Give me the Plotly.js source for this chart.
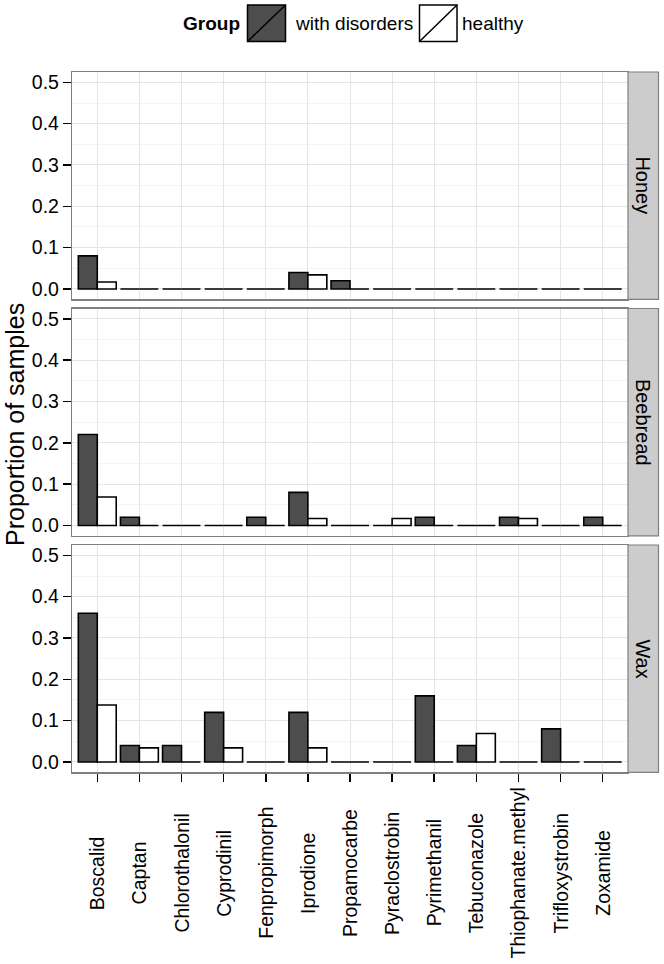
<!DOCTYPE html>
<html>
<head>
<meta charset="utf-8">
<script src="https://cdn.plot.ly/plotly-3.0.1.min.js"></script>
<style>html,body{margin:0;padding:0;background:#fff;}#chart{width:664px;height:964px;}</style>
</head>
<body>
<div id="chart"></div>
<script>
// ---- data ----
var categories = ["Boscalid","Captan","Chlorothalonil","Cyprodinil","Fenpropimorph","Iprodione","Propamocarbe","Pyraclostrobin","Pyrimethanil","Tebuconazole","Thiophanate.methyl","Trifloxystrobin","Zoxamide"];
var panels = ["Honey","Beebread","Wax"];
var groups = ["with disorders","healthy"];
var honeyDisorders    = [0.08,0,0,0,0,0.04,0.02,0,0,0,0,0,0];
var honeyHealthy      = [0.017,0,0,0,0,0.034,0,0,0,0,0,0,0];
var beebreadDisorders = [0.22,0.02,0,0,0.02,0.08,0,0,0.02,0,0.02,0,0.02];
var beebreadHealthy   = [0.069,0,0,0,0,0.017,0,0.017,0,0,0.017,0,0];
var waxDisorders      = [0.36,0.04,0.04,0.12,0,0.12,0,0,0.16,0.04,0,0.08,0];
var waxHealthy        = [0.138,0.034,0,0.034,0,0.034,0,0,0,0.069,0,0,0];
var yTicks = [0,0.1,0.2,0.3,0.4,0.5];
var yTitle = "Proportion of samples";
var legendTitle = "Group";

// ---- styling ----
var W = 664, H = 964;
var FONT = '"Liberation Sans", Arial, Helvetica, sans-serif';
var TXT = 19.5;
var fills = ["#4d4d4d", "#ffffff"];
var px = function(x){ return x / W; };
var py = function(y){ return 1 - y / H; };
var panelL = 72, panelR = 628;
var panelTB = [[72, 299.3], [308.5, 535.8], [545, 772.3]];
var stripR = 658.5;

var series = [[honeyDisorders, honeyHealthy],[beebreadDisorders, beebreadHealthy],[waxDisorders, waxHealthy]];
var traces = [];
series.forEach(function(pair, p){
  pair.forEach(function(vals, g){
    traces.push({
      type: 'bar',
      x: categories,
      y: vals,
      name: groups[g],
      xaxis: p === 0 ? 'x' : 'x' + (p + 1),
      yaxis: p === 0 ? 'y' : 'y' + (p + 1),
      marker: {color: fills[g], line: {color: '#000000', width: 1.6}},
      showlegend: false,
      hoverinfo: 'x+y+name'
    });
  });
});

var layout = {
  width: W, height: H,
  margin: {l: 0, r: 0, t: 0, b: 0},
  paper_bgcolor: '#ffffff',
  plot_bgcolor: '#ffffff',
  font: {family: FONT, size: TXT, color: '#000000'},
  barmode: 'group',
  bargap: 0.1,
  bargroupgap: 0,
  showlegend: false,
  shapes: [],
  annotations: []
};

for (var p = 0; p < 3; p++) {
  var xa = p === 0 ? 'xaxis' : 'xaxis' + (p + 1);
  var ya = p === 0 ? 'yaxis' : 'yaxis' + (p + 1);
  var yref = p === 0 ? 'y' : 'y' + (p + 1);
  var tb = panelTB[p];
  layout[xa] = {
    domain: [px(panelL), px(panelR)],
    anchor: yref,
    type: 'category',
    categoryorder: 'array',
    categoryarray: categories,
    range: [-0.6, categories.length - 0.4],
    showgrid: true, gridcolor: '#e5e5e5', gridwidth: 1,
    showline: true, linecolor: '#7f7f7f', linewidth: 1.2, mirror: true,
    zeroline: false,
    ticks: p === 2 ? 'outside' : '',
    ticklen: 8, tickwidth: 1.5, tickcolor: '#000000',
    showticklabels: false,
    fixedrange: true
  };
  layout[ya] = {
    domain: [py(tb[1]), py(tb[0])],
    anchor: p === 0 ? 'x' : 'x' + (p + 1),
    range: [-0.025, 0.525],
    tickvals: yTicks,
    ticktext: yTicks.map(function(v){ return v.toFixed(1); }),
    ticks: 'outside', ticklen: 8, tickwidth: 1.5, tickcolor: '#000000',
    tickfont: {family: FONT, size: TXT, color: '#000000'},
    showgrid: true, gridcolor: '#e5e5e5', gridwidth: 1,
    minor: {tickvals: [0.05,0.15,0.25,0.35,0.45], showgrid: true, gridcolor: '#f4f4f4', gridwidth: 1, ticks: ''},
    showline: true, linecolor: '#7f7f7f', linewidth: 1.2, mirror: true,
    zeroline: false,
    fixedrange: true
  };
  // facet strip
  layout.shapes.push({type: 'rect', xref: 'paper', yref: 'paper',
    x0: px(panelR), x1: px(stripR), y0: py(tb[1]), y1: py(tb[0]),
    fillcolor: '#cccccc', line: {color: '#7f7f7f', width: 1.2}, layer: 'above'});
  layout.annotations.push({xref: 'paper', yref: 'paper',
    x: px((panelR + stripR) / 2), y: py((tb[0] + tb[1]) / 2),
    text: panels[p], textangle: 90, showarrow: false,
    xanchor: 'center', yanchor: 'middle',
    font: {family: FONT, size: TXT + 0.5, color: '#000000'}});
}

// x tick labels, rotated and centred (as in the reference)
categories.forEach(function(c){
  layout.annotations.push({xref: 'x3', yref: 'paper', x: c, y: py(873),
    text: c, textangle: -90, showarrow: false, xanchor: 'center', yanchor: 'middle',
    font: {family: FONT, size: TXT, color: '#000000'}});
});

// y axis title
layout.annotations.push({xref: 'paper', yref: 'paper', x: px(15), y: py(425),
  text: yTitle, textangle: -90, showarrow: false, xanchor: 'center', yanchor: 'middle',
  font: {family: FONT, size: 25, color: '#000000'}});

// legend (top)
var keyBoxes = [[247.5, 285.5], [419.5, 457]];
layout.annotations.push({xref: 'paper', yref: 'paper', x: px(180.5), y: py(23.5),
  text: '<b>' + legendTitle + '</b>', showarrow: false, xanchor: 'left', yanchor: 'middle',
  font: {family: FONT, size: 19, color: '#000000'}});
var labelX = [293, 460];
groups.forEach(function(g, i){
  var b = keyBoxes[i];
  layout.shapes.push({type: 'rect', xref: 'paper', yref: 'paper',
    x0: px(b[0]), x1: px(b[1]), y0: py(41.5), y1: py(5),
    fillcolor: fills[i], line: {color: '#000000', width: 1.5}});
  layout.shapes.push({type: 'line', xref: 'paper', yref: 'paper',
    x0: px(b[0]), x1: px(b[1]), y0: py(41.5), y1: py(5),
    line: {color: '#000000', width: 1.5}});
  layout.annotations.push({xref: 'paper', yref: 'paper', x: px(labelX[i]), y: py(23.5),
    text: g, showarrow: false, xanchor: 'left', yanchor: 'middle',
    font: {family: FONT, size: 19, color: '#000000'}});
});

Plotly.newPlot('chart', traces, layout, {displayModeBar: false, staticPlot: true});
</script>
</body>
</html>
